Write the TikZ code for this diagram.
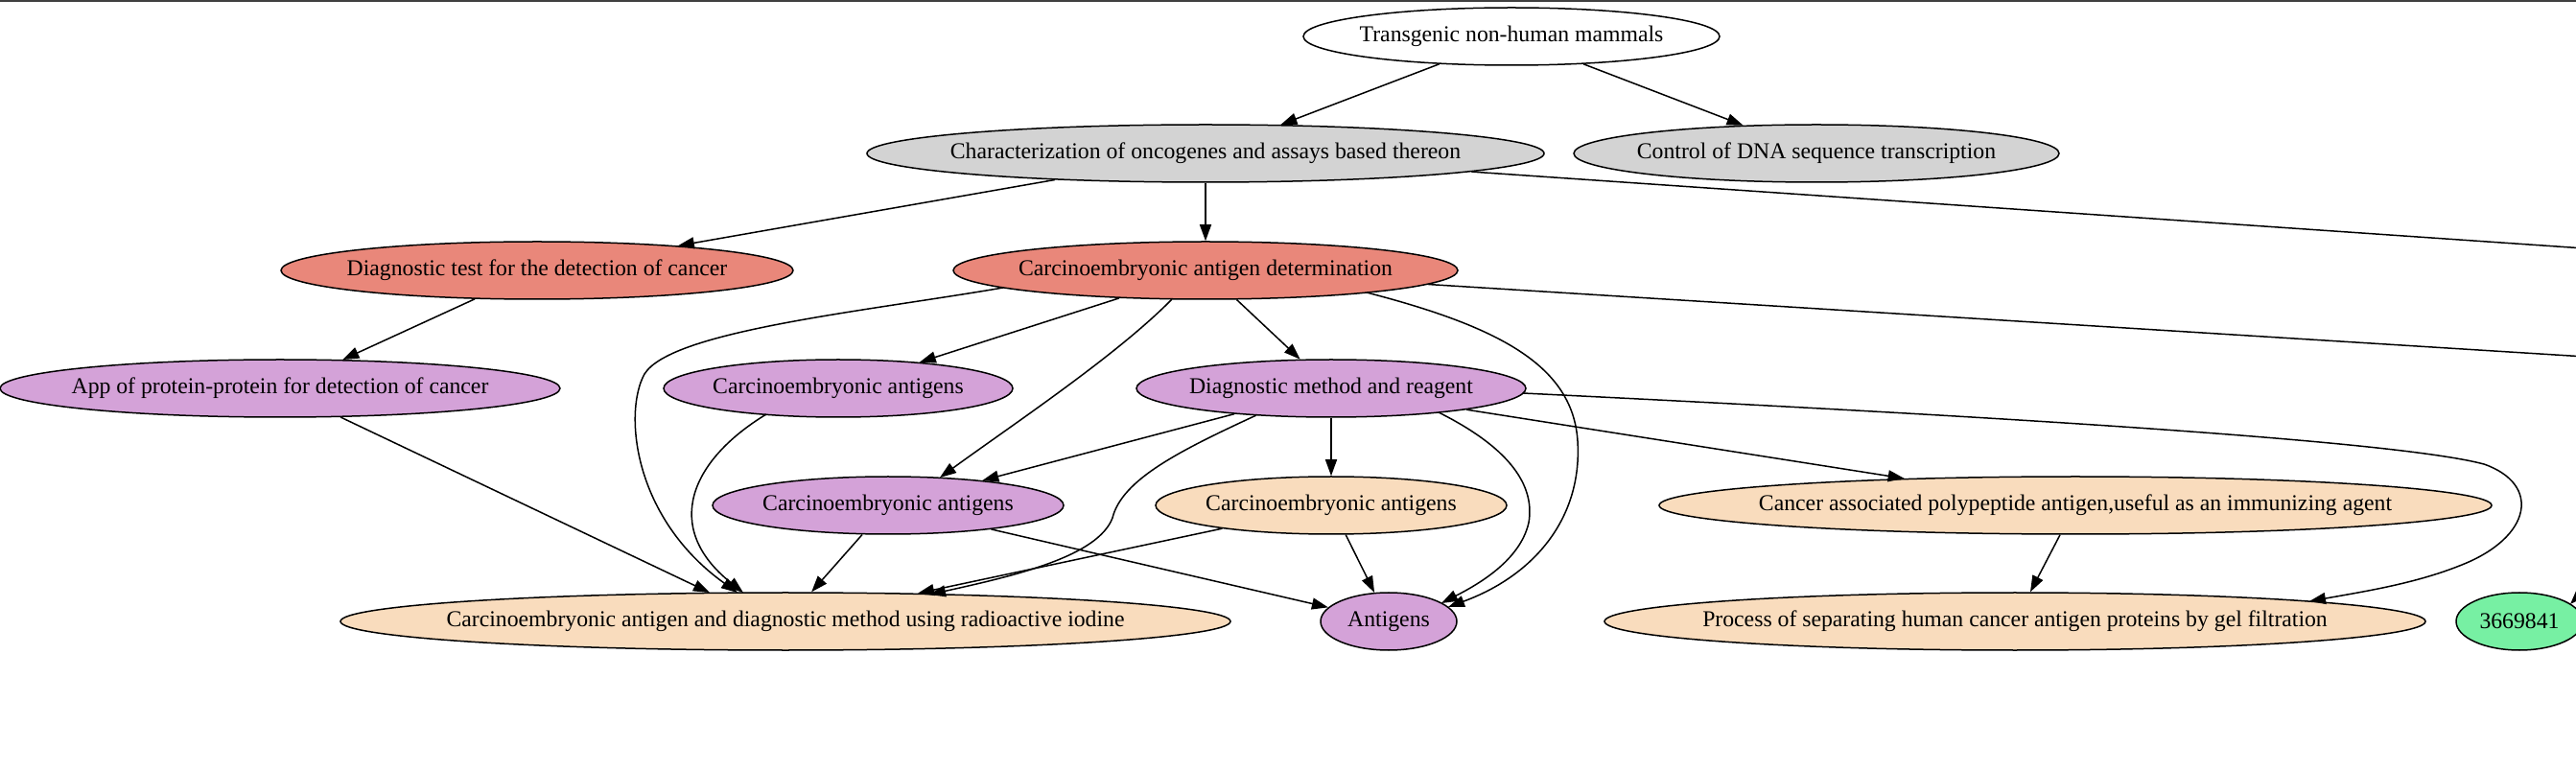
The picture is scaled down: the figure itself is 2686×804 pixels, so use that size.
\documentclass[tikz,border=0pt]{standalone}
\usepackage{fontspec}
\setmainfont{Liberation Serif}
\usetikzlibrary{shapes.geometric,arrows.meta,calc}

\definecolor{salmonfill}{HTML}{E9877A}
\definecolor{plumfill}{HTML}{D4A2D8}
\definecolor{peachfill}{HTML}{F9DCBD}
\definecolor{mintfill}{HTML}{77F0A3}
\definecolor{greyfill}{HTML}{D3D3D3}

\newcommand{\ctr}[1]{\makebox[0pt]{#1}}

\begin{document}
\begin{tikzpicture}[x=0.2mm,y=-0.2mm,line width=0.3mm,>={Triangle[length=3.4mm,width=2.4mm]},
    main node/.style={ellipse,draw,inner sep=0pt,minimum height=12mm,font=\fontsize{13.5}{15}\selectfont},
    wide/.style={minimum width=#1*0.2mm}]
    \useasboundingbox (0,0) rectangle (2686,804);
    \clip (0,0) rectangle (2686,804);
    \fill[black!75] (0,0) rectangle (2686,2);

    \node[main node,wide=434,fill=white] (trans) at (1576,38) {\ctr{Transgenic non-human mammals}};
    \node[main node,wide=706,fill=greyfill] (charact) at (1257,160) {\ctr{Characterization of oncogenes and assays based thereon}};
    \node[main node,wide=506,fill=greyfill] (dnactl) at (1894,160) {\ctr{Control of DNA sequence transcription}};
    \node[main node,wide=534,fill=salmonfill] (dxtest) at (560,282) {\ctr{Diagnostic test for the detection of cancer}};
    \node[main node,wide=526,fill=salmonfill] (ceadet) at (1257,282) {\ctr{Carcinoembryonic antigen determination}};
    \node[main node,wide=584,fill=plumfill] (protapp) at (292,405) {\ctr{App of protein-protein for detection of cancer}};
    \node[main node,wide=364,fill=plumfill] (cea1) at (874,405) {\ctr{Carcinoembryonic antigens}};
    \node[main node,wide=406,fill=plumfill] (dxmeth) at (1388,405) {\ctr{Diagnostic method and reagent}};
    \node[main node,wide=366,fill=plumfill] (cea2) at (926,527) {\ctr{Carcinoembryonic antigens}};
    \node[main node,wide=366,fill=peachfill] (cea3) at (1388,527) {\ctr{Carcinoembryonic antigens}};
    \node[main node,wide=868,fill=peachfill] (capoly) at (2164,527) {\ctr{Cancer associated polypeptide antigen,useful as an immunizing agent}};
    \node[main node,wide=928,fill=peachfill] (radio) at (819,648) {\ctr{Carcinoembryonic antigen and diagnostic method using radioactive iodine}};
    \node[main node,wide=142,fill=plumfill] (antigens) at (1448,648) {\ctr{Antigens}};
    \node[main node,wide=856,fill=peachfill] (gelfilt) at (2101,648) {\ctr{Process of separating human cancer antigen proteins by gel filtration}};
    \node[main node,wide=132,fill=mintfill] (pat3669841) at (2627,648) {\ctr{3669841}};

    % ends of edges leaving the visible part
    \coordinate (offA) at (3000,280);
    \coordinate (offB) at (3000,391);
    \coordinate (offC) at (2742,565);

    \path[->]
        (trans) edge (charact)
        (trans) edge (dnactl)
        (charact) edge (dxtest)
        (charact) edge (ceadet)
        (charact) edge (offA)
        (dxtest) edge (protapp)
        (ceadet) edge (cea1)
        (ceadet) edge (dxmeth)
        (ceadet) edge (offB)
        (protapp) edge ($(radio)+(-79,-30)$)
        (dxmeth) edge (cea2)
        (dxmeth) edge (cea3)
        (dxmeth) edge (capoly)
        (cea2) edge (radio)
        (cea2) edge (antigens)
        (cea3) edge (radio)
        (cea3) edge (antigens)
        (capoly) edge (gelfilt)
        (offC) edge ($(pat3669841)+(53,-18)$)
        ;

    % curved edges
    \draw[->] ($(ceadet)+(-211,18)$) .. controls (900,325) and (700,345) .. (672,390) .. controls (650,430) and (660,540) .. ($(radio)+(-50,-30)$);
    \draw[->] ($(ceadet)+(-35,30)$) .. controls (1165,370) and (1060,440) .. ($(cea2)+(54,-29)$);
    \draw[->] ($(ceadet)+(168,23)$) .. controls (1560,340) and (1640,380) .. (1645,460) .. controls (1650,540) and (1600,600) .. ($(antigens)+(62,-15)$);
    \draw[->] ($(cea1)+(-75,27)$) .. controls (720,480) and (690,550) .. ($(radio)+(-44,-30)$);
    \draw[->] ($(dxmeth)+(-78,28)$) .. controls (1230,470) and (1170,500) .. (1160,540) .. controls (1145,580) and (1060,600) .. ($(radio)+(150,-28)$);
    \draw[->] ($(dxmeth)+(112,25)$) .. controls (1580,470) and (1600,510) .. (1594,545) .. controls (1585,585) and (1540,610) .. ($(antigens)+(55,-19)$);
    \draw[->] ($(dxmeth)+(200,5)$) .. controls (2100,435) and (2500,460) .. (2590,484) .. controls (2650,505) and (2640,560) .. (2567,589) .. controls (2520,608) and (2470,616) .. ($(gelfilt)+(307,-21)$);
\end{tikzpicture}
\end{document}
